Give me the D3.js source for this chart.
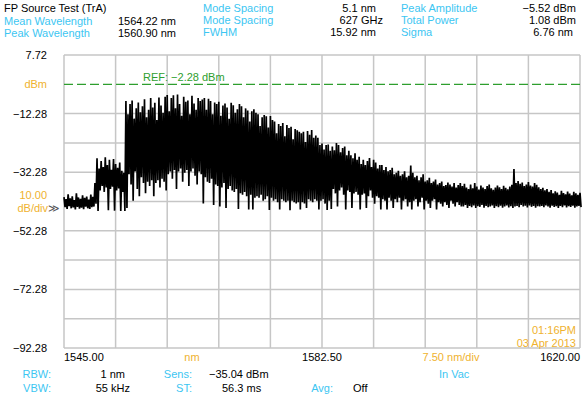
<!DOCTYPE html>
<html>
<head>
<meta charset="utf-8">
<script src="https://cdn.jsdelivr.net/npm/d3@7"></script>
<style>
  html, body { margin: 0; padding: 0; background: #fff; }
  svg { display: block; font-family: "Liberation Sans", Arial, Helvetica, sans-serif; }
</style>
</head>
<body>
<svg id="chart" width="586" height="399"></svg>
<script>
// ---- data ----
const title = "FP Source Test (TrA)";
const col1Labels = ["Mean Wavelength", "Peak Wavelength"];
const col1Values = ["1564.22 nm", "1560.90 nm"];
const col2Labels = ["Mode Spacing", "Mode Spacing", "FWHM"];
const col2Values = ["5.1 nm", "627 GHz", "15.92 nm"];
const col3Labels = ["Peak Amplitude", "Total Power", "Sigma"];
const col3Values = ["\u22125.52 dBm", "1.08 dBm", "6.76 nm"];

const yTickLabels = ["7.72", "\u221212.28", "\u221232.28", "\u221252.28", "\u221272.28", "\u221292.28"];
const yTickValues = [7.72, -12.28, -32.28, -52.28, -72.28, -92.28];
const xTickLabels = ["1545.00", "1582.50", "1620.00"];
const refLevel = -2.28;
const refText = "REF: \u22122.28 dBm";

const footRow1 = [["RBW:", "1 nm"], ["Sens:", "\u221235.04 dBm"], ["In Vac", ""]];
const footRow2 = [["VBW:", "55 kHz"], ["ST:", "56.3 ms"], ["Avg:", "Off"]];
const stamp = ["01:16PM", "03 Apr 2013"];

// trace: max / min of each 0.3 nm display bin, 1545 nm .. 1620 nm (dBm)
const wlStart = 1545, wlStep = 0.3;
const traceMax = [
  -40.8, -41.5, -39.8, -41.2, -40.5, -41.8, -39.5, -40.9, -41.4, -40.2, -41.0, -40.6, -41.6, -39.9, -40.7,
  -36.0, -27.5, -31.0, -28.5, -30.5, -27.2, -29.8, -28.0, -31.5, -27.8, -29.5, -30.8, -29.0, -31.8, -32.5,
  -8.0, -12.5, -9.0, -7.8, -14.0, -10.5, -8.5, -11.8, -9.8, -7.4, -13.5, -11.0, -7.0, -10.2, -8.6, -14.5,
  -6.8, -9.5, -12.0, -6.5, -5.9, -11.5, -7.0, -6.0, -10.5, -5.8, -9.0, -13.0, -6.5, -8.2, -7.8, -12.5,
  -6.2, -8.8, -11.0, -7.0, -8.0,
  -7.5, -7.0, -11.0, -7.2, -8.0, -12.5, -8.5, -9.0, -8.2, -13.0, -9.5, -8.8, -10.2, -14.0, -8.6, -9.4,
  -12.0, -10.8, -9.0, -9.8, -13.5, -10.5, -11.2, -15.0, -11.5, -10.8,
  -12.0, -12.5, -16.5, -13.5, -12.8, -13.2, -17.0, -13.1, -14.5, -15.0, -19.0, -15.8, -16.5, -15.5,
  -20.0, -16.2, -17.2, -16.8, -21.0, -17.5, -18.0, -18.5,
  -19.0, -18.5, -22.0, -18.2, -19.5, -17.9, -20.5, -19.8, -20.5, -23.0, -22.5, -24.5, -23.0, -22.8, -25.0,
  -23.5, -24.8, -22.3, -23.0, -25.5, -24.0, -23.5, -26.5, -25.0, -26.5, -27.5, -25.8, -28.0, -27.0,
  -29.5, -28.0, -29.8, -28.5, -27.4, -30.5, -28.0, -29.0, -31.0, -29.8,
  -29.8, -31.5, -30.5, -32.0, -31.5, -30.8, -33.0, -32.5, -31.8, -33.5, -33.0, -32.0, -34.0, -33.5,
  -30.0, -32.5, -34.0, -33.5, -35.0, -34.0, -33.0, -35.5, -35.0, -34.2, -36.0, -35.5, -34.8, -36.5,
  -36.0, -35.5, -37.0, -36.7, -35.8, -36.5, -37.2, -36.0, -37.5, -36.7, -36.0,
  -37.0, -36.2, -37.5, -38.0, -36.5, -37.8, -36.0, -37.2, -38.2, -36.8, -37.5, -38.0, -37.0, -36.5,
  -37.8, -38.3, -37.5, -36.8, -37.4, -38.0, -36.9, -37.6, -38.1, -37.2, -36.6,
  -31.2,
  -36.0, -35.3, -36.2, -35.8, -37.0, -36.5, -35.6, -36.8, -37.2, -36.0, -36.6, -37.4,
  -38.0, -37.6, -38.5, -38.0, -39.0, -38.4, -39.5, -38.8, -39.2, -40.0, -38.6, -39.4, -39.8, -38.9,
  -39.6, -40.2, -39.0, -39.5, -40.0, -39.3
];
const traceMin = [
  -44.2, -44.8, -43.9, -44.6, -44.3, -45.0, -44.1, -44.7, -44.4, -44.9, -44.0, -44.6, -44.8, -44.2, -44.0,
  -43.0, -45.5, -38.5, -37.0, -39.0, -37.5, -45.3, -38.0, -37.2, -45.4, -38.5, -37.8, -45.5, -39.0, -45.5,
  -44.5, -33.0, -36.5, -42.0, -32.0, -38.0, -40.5, -34.0, -36.0, -39.5, -35.5, -37.0, -35.0, -40.5,
  -36.0, -35.0, -37.5, -34.5, -35.5, -38.5, -33.0, -32.0, -34.5, -31.5, -38.0, -32.0, -31.0, -35.5,
  -32.5, -31.5, -37.0, -32.0, -31.0, -33.5, -36.5, -32.0, -33.0,
  -43.0, -34.0, -35.5, -36.0, -34.5, -43.5, -36.5, -37.0, -44.0, -37.5, -36.0, -44.5, -38.0, -37.0,
  -38.5, -39.0, -38.0, -44.8, -39.5, -40.0, -39.0, -40.5, -45.0, -40.0, -45.0, -41.0,
  -40.5, -41.0, -40.0, -42.0, -41.5, -40.5, -45.2, -41.0, -42.0, -41.5, -42.5, -45.0, -41.5, -42.0,
  -42.5, -42.0, -45.3, -42.0, -42.5, -43.0, -42.5, -45.0,
  -42.5, -43.0, -44.5, -41.5, -42.0, -42.5, -41.5, -42.0, -45.0, -42.0, -41.5, -43.0, -45.2, -42.0, -44.8,
  -38.0, -39.5, -44.0, -38.5, -37.5, -40.0, -45.0, -38.5, -39.0, -44.5, -39.5, -39.0, -40.0, -45.0,
  -40.0, -39.5, -44.5, -40.5, -38.5, -41.0, -43.0, -40.5, -41.0, -45.0,
  -41.5, -42.0, -45.0, -41.0, -42.0, -44.5, -41.5, -42.5, -41.0, -45.0, -42.0, -41.5, -44.0, -42.5,
  -45.0, -42.0, -41.5, -44.0, -42.5, -41.0, -45.0, -42.0, -43.0, -44.5, -42.0, -41.5, -45.0, -42.5,
  -43.0, -44.0, -42.5, -43.5, -44.5, -42.0, -43.0, -44.0, -42.5, -43.5, -44.0,
  -44.0, -43.5, -44.5, -43.8, -44.2, -43.6, -44.5, -43.9, -44.1, -43.5, -44.4, -43.8, -44.2, -44.0,
  -43.6, -44.5, -43.9, -44.2, -43.7, -44.4, -44.0, -43.6, -44.3, -43.9, -44.5,
  -44.0,
  -43.8, -44.2, -43.5, -44.0, -43.7, -44.3, -43.6, -44.1, -43.8, -44.4, -43.9, -44.0,
  -43.8, -44.2, -43.6, -44.0, -44.4, -43.7, -44.1, -43.9, -44.5, -43.8, -44.2, -43.6, -44.3, -43.9,
  -44.1, -43.7, -44.4, -44.0, -43.8, -44.2
];

// ---- layout ----
const plot = { left: 64, right: 580, top: 55, bottom: 348 };
const cyan = "#3cc6f2", orange = "#efb22e", green = "#2e9e2e", gridCol = "#c6c6c6";
const fontSize = 11;

const svg = d3.select("#chart");

const x = d3.scaleLinear().domain([1545, 1620]).range([plot.left, plot.right]);
const y = d3.scaleLinear().domain([-92.28, 7.72]).range([plot.bottom, plot.top]);

function txt(px, py, s, fill, anchor) {
  return svg.append("text")
    .attr("x", px).attr("y", py)
    .attr("fill", fill || "#000")
    .attr("text-anchor", anchor || "start")
    .style("font-size", fontSize + "px")
    .text(s);
}

// header
txt(4, 12, title);
col1Labels.forEach((s, i) => txt(4, 24.5 + i * 12, s, cyan));
col1Values.forEach((s, i) => txt(176, 24.5 + i * 12, s, "#000", "end"));
col2Labels.forEach((s, i) => txt(203, 12 + i * 12, s, cyan));
const col2Ends = [376, 383, 376];
col2Values.forEach((s, i) => txt(col2Ends[i], 12 + i * 12, s, "#000", "end"));
col3Labels.forEach((s, i) => txt(401, 12 + i * 12, s, cyan));
const col3Ends = [576, 576, 573];
col3Values.forEach((s, i) => txt(col3Ends[i], 12 + i * 12, s, "#000", "end"));

// grid: 10 divisions each way
const grid = svg.append("g");
const xGrid = d3.range(0, 11).map(k => 1545 + k * 7.5);
const yGrid = d3.range(0, 11).map(k => -92.28 + k * 10);
grid.selectAll("line.v").data(xGrid).join("line")
  .attr("x1", d => x(d)).attr("x2", d => x(d))
  .attr("y1", plot.top).attr("y2", plot.bottom)
  .attr("stroke", gridCol).attr("stroke-width", 1.5);
grid.selectAll("line.h").data(yGrid.filter(v => Math.abs(v - refLevel) > 0.01)).join("line")
  .attr("x1", plot.left).attr("x2", plot.right)
  .attr("y1", d => y(d)).attr("y2", d => y(d))
  .attr("stroke", gridCol).attr("stroke-width", 1.5);

// reference line
svg.append("line")
  .attr("x1", plot.left).attr("x2", plot.right)
  .attr("y1", y(refLevel)).attr("y2", y(refLevel))
  .attr("stroke", green).attr("stroke-width", 1.2)
  .attr("stroke-dasharray", "9,4");
txt(143, y(refLevel) - 3, refText, green);

// trace: each bin drawn max -> min, like the OSA's peak-detect display
const pts = [];
traceMax.forEach((v, i) => {
  const wl = wlStart + i * wlStep;
  pts.push([x(wl), y(v)]);
  pts.push([x(wl + wlStep / 2), y(traceMin[i])]);
});
svg.append("path")
  .datum(pts)
  .attr("d", d3.line())
  .attr("fill", "none")
  .attr("stroke", "#000")
  .attr("stroke-width", 1.7)
  .attr("stroke-linejoin", "miter");

// y labels
yTickValues.forEach((v, i) => txt(47, y(v) + 4, yTickLabels[i], "#000", "end"));
txt(47, y(refLevel) + 4, "dBm", orange, "end");
txt(47, 199, "10.00", orange, "end");
txt(48, 212, "dB/div", orange, "end");
txt(48, 212, "\u226B", "#555");

// x labels
txt(plot.left, 361, xTickLabels[0]);
txt(x(1582.5), 361, xTickLabels[1], "#000", "middle");
txt(plot.right, 361, xTickLabels[2], "#000", "end");
txt(192, 361, "nm", orange, "middle");
txt(451, 361, "7.50 nm/div", orange, "middle");

// timestamp
stamp.forEach((s, i) => txt(576, 334 + i * 12.5, s, orange, "end"));

// footer
txt(51, 378, footRow1[0][0], cyan, "end");
txt(125, 378, footRow1[0][1], "#000", "end");
txt(192, 378, footRow1[1][0], cyan, "end");
txt(209, 378, footRow1[1][1]);
txt(439, 378, footRow1[2][0], cyan);
txt(51, 392, footRow2[0][0], cyan, "end");
txt(130, 392, footRow2[0][1], "#000", "end");
txt(192, 392, footRow2[1][0], cyan, "end");
txt(222, 392, footRow2[1][1]);
txt(333, 392, footRow2[2][0], cyan, "end");
txt(353, 392, footRow2[2][1]);
</script>
</body>
</html>
